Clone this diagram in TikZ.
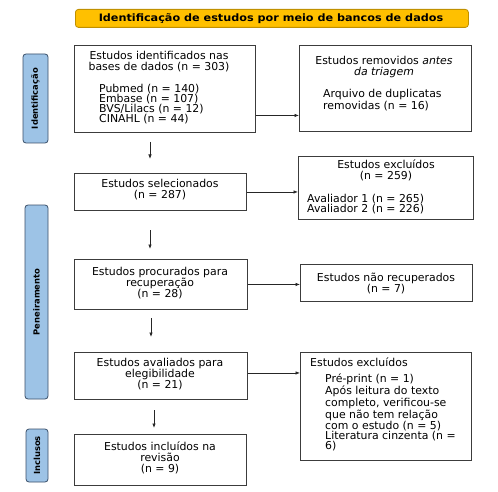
\documentclass[tikz,border=0pt]{standalone}
\usepackage{fontspec}
\setmainfont{DejaVu Sans}
\newfontfamily\titlefont[FakeStretch=1.1]{DejaVu Sans}
\usetikzlibrary{arrows.meta}
\definecolor{titlefill}{HTML}{FFC000}
\definecolor{titleedge}{HTML}{C09000}
\definecolor{sidefill}{HTML}{9DC3E6}
\definecolor{sideedge}{HTML}{3A4F6A}
\definecolor{boxedge}{HTML}{3C3C3C}
\begin{document}
\begin{tikzpicture}[x=1pt,y=-1pt,
  flowbox/.style={draw=boxedge, line width=0.9pt, anchor=north west, inner sep=0pt},
  txt/.style={inner sep=0pt, font=\fontsize{10.9}{11}\selectfont, align=center},
  txtl/.style={inner sep=0pt, font=\fontsize{10.9}{10.2}\selectfont, align=left, anchor=west},
  sidelabel/.style={draw=sideedge, fill=sidefill, line width=0.8pt, rounded corners=3pt, rotate=90, inner sep=0pt, font=\bfseries\fontsize{8.4}{8.4}\selectfont},
  arr/.style={line width=0.7pt, draw=black!85, -{Latex[length=4.5pt,width=3.5pt]}}
]
\useasboundingbox (0,0) rectangle (498,492);
\fill[white] (0,0) rectangle (498,492);

% title
\node[draw=titleedge, fill=titlefill, line width=0.8pt, rounded corners=3pt, anchor=north west, minimum width=393pt, minimum height=18pt, inner sep=0pt] (title) at (75,9) {};
\node[inner sep=0pt, font=\titlefont\bfseries\fontsize{10.2}{10.2}\selectfont] (titletxt) at (271,18.5) {Identificação de estudos por meio de bancos de dados};

% side labels
\node[sidelabel, minimum width=89pt, minimum height=25pt] (s1) at (35.5,98.5) {Identificação};
\node[sidelabel, minimum width=194pt, minimum height=23pt] (s2) at (36.5,302) {Peneiramento};
\node[sidelabel, minimum width=53pt, minimum height=22pt] (s3) at (37,455.5) {Inclusos};

% boxes
\node[flowbox, minimum width=181pt, minimum height=87pt] (b1) at (74,45) {};
\node[flowbox, minimum width=172pt, minimum height=86pt] (b2) at (299,45) {};
\node[flowbox, minimum width=172pt, minimum height=37pt] (sel) at (74,173) {};
\node[flowbox, minimum width=175pt, minimum height=63pt] (ex1) at (298,156) {};
\node[flowbox, minimum width=173pt, minimum height=50pt] (proc) at (74,259) {};
\node[flowbox, minimum width=172pt, minimum height=37pt] (nr) at (300,264) {};
\node[flowbox, minimum width=173pt, minimum height=47pt] (aval) at (74,352) {};
\node[flowbox, minimum width=171pt, minimum height=108pt] (ex2) at (300,352) {};
\node[flowbox, minimum width=172pt, minimum height=51pt] (inc) at (74,434) {};

% texts
\node[txt] (t1a) at (159,61.5) {Estudos identificados nas\\bases de dados (n = 303)};
\node[txtl] (t1b) at (99,104) {Pubmed (n = 140)\\Embase (n = 107)\\BVS/Lilacs (n = 12)\\CINAHL (n = 44)};
\node[txt] (t2a) at (384,67) {Estudos removidos \textit{antes}\\\textit{da triagem}};
\node[txtl] (t2b) at (323,100) {Arquivo de duplicatas\\removidas (n = 16)};
\node[txt] (t3) at (160,190) {Estudos selecionados\\(n = 287)};
\node[txt] (t4a) at (386,170) {Estudos excluídos\\(n = 259)};
\node[txtl] (t4b) at (307,204) {Avaliador 1 (n = 265)\\Avaliador 2 (n = 226)};
\node[txt] (t5) at (160,283) {Estudos procurados para\\recuperação\\(n = 28)};
\node[txt] (t6) at (386,283) {Estudos não recuperados\\(n = 7)};
\node[txt] (t7) at (160,374) {Estudos avaliados para\\elegibilidade\\(n = 21)};
\node[txtl] (t8a) at (310,362) {Estudos excluídos};
\node[txtl, font=\fontsize{10.9}{9.9}\selectfont] (t8b) at (325,412.5) {Pré-print (n = 1)\\Após leitura do texto\\completo, verificou-se\\que não tem relação\\com o estudo (n = 5)\\Literatura cinzenta (n =\\6)};
\node[txt] (t9) at (160,458) {Estudos incluídos na\\revisão\\(n = 9)};

% horizontal arrows
\draw[arr] ([yshift=-26.5pt]b1.east) -- ([yshift=-26.5pt]b1.east -| b2.west);
\draw[arr] (sel.east) -- (sel.east -| ex1.west);
\draw[arr] (proc.east) -- (proc.east -| nr.west);
\draw[arr] ([yshift=3pt]aval.east) -- ([yshift=3pt]aval.east -| ex2.west);

% vertical arrows
\coordinate (v1a) at (150,142); \coordinate (v1b) at (150,159);
\coordinate (v2a) at (150,230); \coordinate (v2b) at (150,249);
\coordinate (v3a) at (151,318); \coordinate (v3b) at (151,337);
\coordinate (v4a) at (154,410); \coordinate (v4b) at (154,428);
\draw[arr] (v1a) -- (v1b);
\draw[arr] (v2a) -- (v2b);
\draw[arr] (v3a) -- (v3b);
\draw[arr] (v4a) -- (v4b);
\end{tikzpicture}
\end{document}
